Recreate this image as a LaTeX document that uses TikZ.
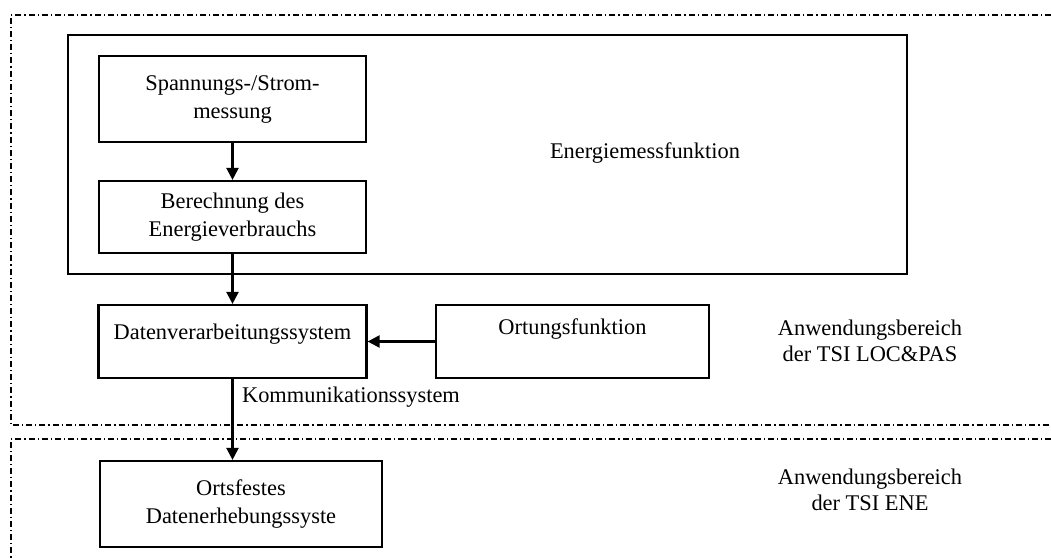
\documentclass[tikz,border=0pt]{standalone}
\usepackage{fontspec}
\setmainfont{Liberation Serif}
\usetikzlibrary{arrows.meta}

\begin{document}
\begin{tikzpicture}[x=0.5pt, y=-0.5pt, line width=1.1pt,
        box/.style={draw, inner sep=0pt, align=center, font=\fontsize{11.2}{14}\selectfont},
        txt/.style={inner sep=0pt, align=center, font=\fontsize{11.2}{13}\selectfont},
        bereich/.style={line width=0.6pt, dash pattern=on 3pt off 1.5pt on 0.6pt off 1.5pt},
        pfeil/.style={draw, line width=1.1pt},
        >={Triangle[length=6pt, width=6pt]}]
                \useasboundingbox (0,0) rectangle (1051,559);

                % Anwendungsbereiche
                \draw[bereich] (1051,15) -- (11,15) -- (11,425) -- (1051,425);
                \draw[bereich] (1051,439) -- (11,439) -- (11,559);

                \node[box, minimum width=419.5pt, minimum height=119.5pt] (energie) at (487.5,154.5) {};
                \node[txt] (energietext) at (645,153) {Energiemessfunktion};
                \node[box, minimum width=133.5pt, minimum height=43pt] (spann)  at (232.5,99)  {Spannungs-/Strom-\\messung};
                \node[box, minimum width=133.5pt, minimum height=36pt] (berech) at (232.5,217) {Berechnung des\\Energieverbrauchs};
                \node[box, minimum width=134pt, minimum height=36.5pt, text height=7pt, text depth=9pt] (daten) at (232.5,341.5) {Datenverarbeitungssystem};
                \node[box, minimum width=136.5pt, minimum height=36.5pt, text height=7pt, text depth=14pt] (ortung) at (572.5,341.5) {Ortungsfunktion};
                \node[box, minimum width=141pt, minimum height=43pt] (ortsfest) at (241,504) {Ortsfestes\\Datenerhebungssyste};

                \node[txt] (komm) at (351,397) {Kommunikationssystem};
                \node[txt] (loc)  at (870,340.5) {Anwendungsbereich\\der TSI LOC\&PAS};
                \node[txt] (ene)  at (870,490) {Anwendungsbereich\\der TSI ENE};

                \path[->] (spann) edge[pfeil] (berech);
                \path[->] (berech) edge[pfeil] (daten);
                \path[->] (ortung.west) edge[pfeil] (daten.east);
                \path[->] (daten.south) edge[pfeil] (daten.south |- ortsfest.north);
\end{tikzpicture}
\end{document}
